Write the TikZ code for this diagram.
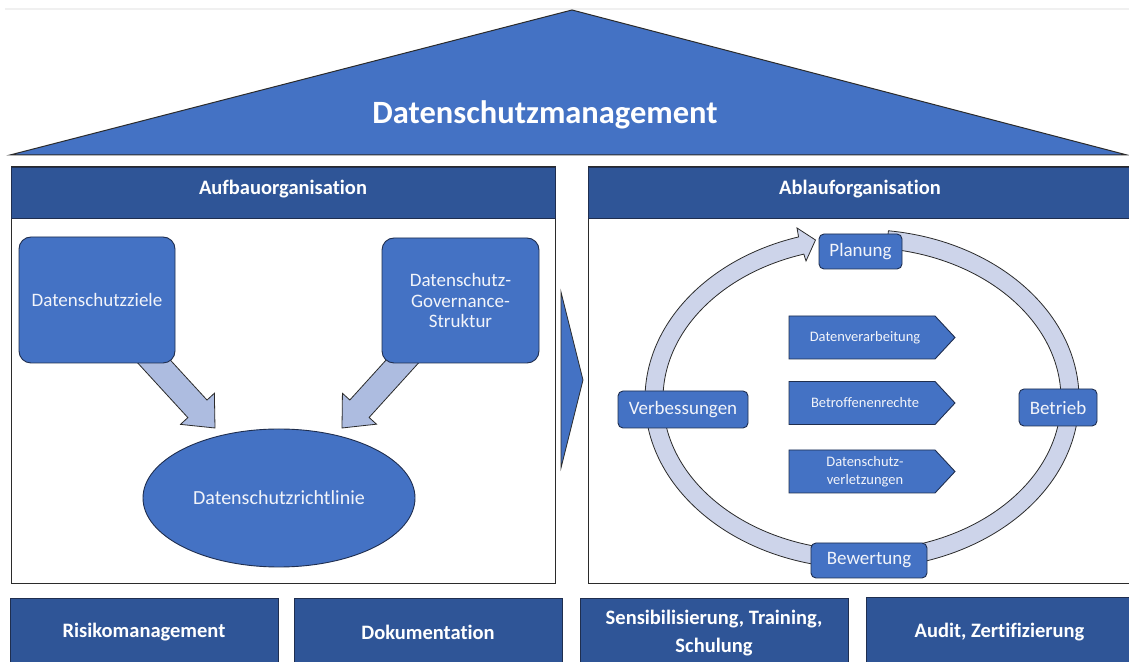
\documentclass[tikz,border=0pt]{standalone}
\usepackage{fontspec}
\setmainfont{Carlito}[Ligatures={NoCommon,NoContextual}]
\usetikzlibrary{calc,shapes.geometric}

\definecolor{roofblue}{HTML}{4472C4}
\definecolor{darkbar}{HTML}{2F5597}
\definecolor{ringfill}{HTML}{CDD4EA}
\definecolor{arrowfill}{HTML}{ADBCE0}
\definecolor{edge}{HTML}{2B2B2B}
\definecolor{boxedge}{HTML}{1F2E4F}
\definecolor{boxtext}{HTML}{F2F4FA}

\tikzset{
  every node/.style={inner sep=0pt, outer sep=0pt},
  bluebox/.style={draw=boxedge, line width=0.9pt, fill=roofblue, text=boxtext,
    rounded corners=12pt, align=center, font=\fontsize{19}{20.5}\selectfont},
  policy/.style={ellipse, draw=boxedge, line width=0.9pt, fill=roofblue, text=boxtext,
    font=\fontsize{20}{24}\selectfont},
  cyclebox/.style={draw=boxedge, line width=0.9pt, fill=roofblue, text=boxtext,
    rounded corners=5pt, font=\fontsize{19}{22}\selectfont},
  panel/.style={draw=edge, line width=1pt, fill=white},
  header/.style={draw=boxedge, line width=0.9pt, fill=darkbar},
  headertext/.style={text=white, font=\bfseries\fontsize{20.5}{24}\selectfont},
  bottombar/.style={draw=boxedge, line width=0.9pt, fill=darkbar, text=white,
    align=center, font=\bfseries\fontsize{20.5}{27.5}\selectfont},
  processshape/.style={draw=boxedge, line width=0.9pt, fill=roofblue, line join=miter},
  processtext/.style={text=boxtext, align=center, font=\fontsize{14.5}{18}\selectfont},
  blockarrow/.style={draw=edge, line width=0.8pt, fill=arrowfill, line join=miter},
  ringband/.style={draw=edge, line width=0.8pt, fill=ringfill},
}

% broad arrow from #1 to the tip #2
\newcommand\blockarrow[2]{%
  \coordinate (#1-base) at ($(#2)!26pt!(#1)$);
  \draw[blockarrow] ($(#1)!13pt!90:(#2)$) -- ($(#1-base)!13pt!90:(#2)$)
    -- ($(#1-base)!23pt!90:(#2)$) -- (#2) -- ($(#1-base)!23pt!-90:(#2)$)
    -- ($(#1-base)!13pt!-90:(#2)$) -- ($(#1)!13pt!-90:(#2)$) -- cycle;}

% pentagon-shaped process step: name, vertical centre, text
\newcommand\processstep[3]{%
  \draw[processshape] (789,#2+21.5) -- (935,#2+21.5) -- (955,#2)
    -- (935,#2-21.5) -- (789,#2-21.5) -- cycle;
  \node[processtext] (#1) at (865,#2) {#3};}

\begin{document}
\begin{tikzpicture}[x=1pt,y=1pt]
\path[use as bounding box] (0,0) rectangle (1129,661);
\clip (0,0) rectangle (1129,661);
\fill[white] (0,0) rectangle (1129,661);
\draw[color=black!6, line width=1.2pt] (5,652) -- (1129,652);

% roof
\coordinate (roofL) at (10,506);
\coordinate (roofA) at (572,651);
\coordinate (roofR) at (1127,506);
\draw[draw=edge, line width=1pt, fill=roofblue, line join=miter] (roofL) -- (roofA) -- (roofR) -- cycle;
\node[text=white, font=\bfseries\fontsize{32.5}{39}\selectfont] (title) at (545,546) {Datenschutzmanagement};

% two panels
\node[panel, minimum width=544pt, minimum height=417pt] (leftpanel) at (283,285.5) {};
\node[header, minimum width=544pt, minimum height=51pt] (aufbau) at (283,468.5) {};
\node[headertext] (aufbautext) at (283,471.5) {Aufbauorganisation};
\node[panel, minimum width=542pt, minimum height=417pt] (rightpanel) at (859,285.5) {};
\node[header, minimum width=542pt, minimum height=51pt] (ablauf) at (859,468.5) {};
\node[headertext] (ablauftext) at (860,471.5) {Ablauforganisation};

% pointer between the panels
\coordinate (ptrTop) at (561,369);
\coordinate (ptrBot) at (561,193);
\coordinate (ptrTip) at (583,281);
\draw[draw=edge, line width=0.8pt, fill=roofblue, line join=miter] (ptrTop) -- (ptrTip) -- (ptrBot) -- cycle;

% structure side
\coordinate (a1s) at (146.4,307.8);
\coordinate (a1t) at (215,233);
\coordinate (a2s) at (410,308);
\coordinate (a2t) at (342,233);
\blockarrow{a1s}{a1t}
\blockarrow{a2s}{a2t}
\node[bluebox, minimum width=156pt, minimum height=126pt] (ziele) at (97,361) {Datenschutzziele};
\node[bluebox, minimum width=157pt, minimum height=125pt] (gov) at (460.5,360.5) {Datenschutz-\\Governance-\\Struktur};
\node[policy, minimum width=272pt, minimum height=138pt] (richt) at (279,163) {Datenschutzrichtlinie};

% process cycle
\coordinate (rc) at (862,262);
\draw[ringband] ($(rc)+(83:217pt and 169.5pt)$)
  arc[start angle=83, end angle=-182, x radius=217pt, y radius=169.5pt]
  -- ($(rc)+(-182:199pt and 151.5pt)$)
  arc[start angle=-182, end angle=83, x radius=199pt, y radius=151.5pt] -- cycle;
\coordinate (barbO) at (797,433);
\coordinate (barbI) at (806,400);
\coordinate (cyctip) at (815.5,421);
\draw[ringband, line join=miter] ($(rc)+(185:217pt and 169.5pt)$)
  arc[start angle=185, end angle=107, x radius=217pt, y radius=169.5pt]
  -- (barbO) -- (cyctip) -- (barbI)
  -- ($(rc)+(107:199pt and 151.5pt)$)
  arc[start angle=107, end angle=185, x radius=199pt, y radius=151.5pt] -- cycle;

\node[cyclebox, minimum width=83pt, minimum height=35pt] (plan) at (860.5,409.5) {Planung};
\node[cyclebox, minimum width=130pt, minimum height=37pt] (verb) at (683,251.5) {Verbessungen};
\node[cyclebox, minimum width=78pt, minimum height=37pt] (betr) at (1058,253.5) {Betrieb};
\node[cyclebox, minimum width=116pt, minimum height=35pt] (bew) at (869,100.5) {Bewertung};

\processstep{dv}{323.5}{Datenverarbeitung}
\processstep{br}{258}{Betroffenenrechte}
\processstep{dsv}{189.5}{Datenschutz-\\verletzungen}

% supporting bars
\node[bottombar, minimum width=268pt, minimum height=68pt] (risk) at (144,29) {Risikomanagement};
\node[bottombar, minimum width=268pt, minimum height=68pt] (doku) at (428,29) {Dokumentation};
\node[bottombar, minimum width=268pt, minimum height=70pt] (sens) at (714,28) {Sensibilisierung, Training,\\Schulung};
\node[bottombar, minimum width=267pt, minimum height=70pt] (audit) at (999.5,29) {Audit, Zertifizierung};
\end{tikzpicture}
\end{document}
